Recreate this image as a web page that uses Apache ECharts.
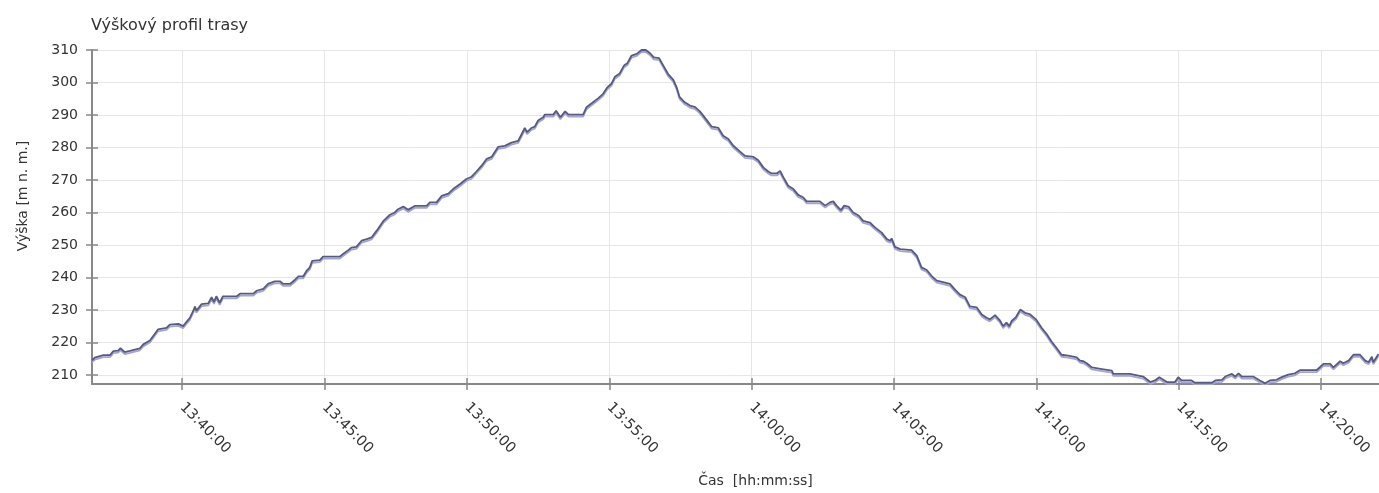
<!DOCTYPE html>
<html>
<head>
<meta charset="utf-8">
<script src="https://cdn.jsdelivr.net/npm/echarts@6/dist/echarts.min.js"></script>
<style>html,body{margin:0;padding:0;background:#fff}#c{width:1379px;height:493px}</style>
</head>
<body>
<div id="c"></div>
<script>
var chartTitle = 'Výškový profil trasy';
var yName = 'Výška [m n. m.]';
var xName = 'Čas  [hh:mm:ss]';
var yTicks = [210, 220, 230, 240, 250, 260, 270, 280, 290, 300, 310];
var xTicks = ['13:40:00', '13:45:00', '13:50:00', '13:55:00', '14:00:00', '14:05:00', '14:10:00', '14:15:00', '14:20:00'];
var xStart = '13:36:50';
var xEnd = '14:22:02';
var times = [
'13:36:50','13:36:56','13:37:14','13:37:28','13:37:35','13:37:45','13:37:50','13:37:59','13:38:10','13:38:31',
'13:38:38','13:38:52','13:38:59','13:39:09','13:39:27','13:39:34','13:39:52','13:39:55','13:40:02','13:40:09',
'13:40:16','13:40:23','13:40:27','13:40:30','13:40:41','13:40:55','13:41:02','13:41:07','13:41:12','13:41:19',
'13:41:26','13:41:55','13:42:02','13:42:30','13:42:37','13:42:51','13:43:01','13:43:15','13:43:26','13:43:33',
'13:43:47','13:43:58','13:44:05','13:44:15','13:44:22','13:44:29','13:44:34','13:44:50','13:44:57','13:45:32',
'13:45:39','13:45:50','13:45:57','13:46:07','13:46:18','13:46:29','13:46:39','13:46:50','13:47:04','13:47:18',
'13:47:28','13:47:35','13:47:46','13:47:56','13:48:10','13:48:35','13:48:42','13:48:56','13:49:07','13:49:21',
'13:49:31','13:49:45','13:49:59','13:50:10','13:50:20','13:50:31','13:50:41','13:50:52','13:51:06','13:51:20',
'13:51:34','13:51:48','13:51:52','13:52:02','13:52:07','13:52:16','13:52:23','13:52:30','13:52:41','13:52:44',
'13:53:02','13:53:08','13:53:17','13:53:27','13:53:34','13:54:05','13:54:12','13:54:23','13:54:37','13:54:47',
'13:54:56','13:55:05','13:55:12','13:55:22','13:55:31','13:55:38','13:55:47','13:55:58','13:56:08','13:56:17',
'13:56:26','13:56:34','13:56:45','13:56:54','13:57:04','13:57:15','13:57:22','13:57:28','13:57:39','13:57:50',
'13:58:01','13:58:11','13:58:25','13:58:36','13:58:50','13:59:00','13:59:11','13:59:21','13:59:35','13:59:46',
'14:00:04','14:00:14','14:00:25','14:00:35','14:00:42','14:00:53','14:01:00','14:01:07','14:01:17','14:01:28',
'14:01:38','14:01:49','14:01:56','14:02:24','14:02:35','14:02:45','14:02:52','14:02:59','14:03:08','14:03:15',
'14:03:25','14:03:34','14:03:46','14:03:55','14:04:09','14:04:20','14:04:34','14:04:45','14:04:52','14:04:55',
'14:05:02','14:05:13','14:05:16','14:05:37','14:05:48','14:05:58','14:06:09','14:06:19','14:06:30','14:06:58',
'14:07:09','14:07:19','14:07:30','14:07:40','14:07:54','14:08:05','14:08:15','14:08:22','14:08:33','14:08:43',
'14:08:50','14:08:57','14:09:03','14:09:08','14:09:17','14:09:26','14:09:36','14:09:47','14:09:59','14:10:11',
'14:10:22','14:10:32','14:10:43','14:10:53','14:11:07','14:11:25','14:11:32','14:11:39','14:11:46','14:11:57',
'14:12:18','14:12:39','14:12:42','14:13:17','14:13:21','14:13:45','14:14:00','14:14:10','14:14:19','14:14:35',
'14:14:52','14:14:59','14:15:06','14:15:27','14:15:34','14:16:10','14:16:17','14:16:31','14:16:38','14:16:52',
'14:16:59','14:17:06','14:17:13','14:17:37','14:17:51','14:18:02','14:18:12','14:18:26','14:18:37','14:18:51',
'14:19:05','14:19:16','14:19:51','14:20:05','14:20:19','14:20:26','14:20:40','14:20:47','14:20:58','14:21:08',
'14:21:22','14:21:33','14:21:40','14:21:47','14:21:50','14:22:01'
];
var elevation = [
214.5,215.3,216.1,216.1,217.3,217.5,218.2,217.0,217.4,218.2,
219.4,220.6,222.0,224.0,224.5,225.5,225.7,226.3,225.0,226.3,
227.5,229.6,231.0,229.8,231.8,232.0,233.9,232.5,234.2,232.2,
234.2,234.2,235.0,235.0,235.9,236.5,238.0,238.8,238.8,238.0,
238.0,239.3,240.3,240.3,242.0,243.1,245.1,245.3,246.4,246.4,
247.2,248.4,249.2,249.4,251.3,251.8,252.3,254.4,257.4,259.3,
260.0,261.0,261.8,260.8,262.0,262.0,263.1,263.1,265.1,265.8,
267.2,268.7,270.3,271.0,272.6,274.4,276.4,277.1,280.2,280.5,
281.5,282.0,282.6,286.0,284.7,286.0,286.4,288.3,289.3,290.1,
290.1,291.3,289.3,291.1,290.1,290.1,292.4,293.6,295.2,296.5,
298.5,299.7,301.8,302.8,305.2,305.9,308.3,308.8,310.0,310.0,
309.0,307.7,307.5,305.2,302.6,300.8,298.5,295.6,293.9,292.9,
292.4,291.1,288.5,286.4,286.0,283.6,282.6,280.6,278.8,277.4,
277.1,276.1,273.8,272.6,272.0,272.0,272.8,270.8,268.2,267.2,
265.4,264.6,263.4,263.4,262.1,263.1,263.4,262.1,260.7,262.1,
261.7,260.0,259.0,257.4,256.9,255.4,253.8,251.8,251.3,252.0,
249.4,248.7,249.2,248.4,246.7,243.1,242.3,240.5,239.0,238.0,
236.2,234.7,233.9,231.1,230.8,228.6,227.6,227.1,228.4,226.8,
225.0,226.1,225.0,226.6,227.8,230.1,229.1,228.6,227.1,224.5,
222.5,220.3,218.2,216.2,215.9,215.4,214.4,214.2,213.6,212.3,
211.8,211.3,210.3,210.3,209.8,209.5,207.8,208.3,209.3,207.8,
207.8,209.3,208.3,208.3,207.6,207.6,208.3,208.5,209.5,210.3,
209.5,210.5,209.5,209.5,208.3,207.4,208.3,208.5,209.3,210.1,
210.5,211.5,211.5,213.4,213.4,212.3,214.2,213.6,214.4,216.2,
216.2,214.4,213.9,215.6,213.9,216.4
];

// seconds since midnight
function sec(s) {
  var p = s.split(':');
  return (+p[0]) * 3600 + (+p[1]) * 60 + (+p[2]);
}
function pad(n) { return (n < 10 ? '0' : '') + n; }
function fmt(v) {
  v = Math.round(v);
  var h = Math.floor(v / 3600), m = Math.floor((v % 3600) / 60), s = v % 60;
  return pad(h) + ':' + pad(m) + ':' + pad(s);
}
var seriesData = times.map(function (t, i) { return [sec(t), elevation[i]]; });
var xTickValues = xTicks.map(sec);

var font = 'DejaVu Sans';
var tickStyle = { color: '#888', width: 1.5 };
var chart = echarts.init(document.getElementById('c'), null, { renderer: 'canvas' });
chart.setOption({
  animation: false,
  backgroundColor: '#ffffff',
  title: {
    text: chartTitle, left: 86, top: 13,
    textStyle: { fontFamily: font, fontSize: 16, fontWeight: 'normal', color: '#333' }
  },
  grid: { left: 92, right: 0, top: 50, bottom: 109, outerBoundsMode: 'none', containLabel: false },
  xAxis: [{
    type: 'value',
    min: sec(xStart), max: sec(xEnd),
    name: xName, nameLocation: 'middle', nameGap: 90,
    nameTextStyle: { fontFamily: font, fontSize: 14, color: '#333', padding: [0, 0, 0, 40] },
    axisLine: { show: true, lineStyle: { color: '#888', width: 2 } },
    axisTick: { show: true, length: 6, customValues: xTickValues, lineStyle: tickStyle },
    axisLabel: {
      rotate: -45, margin: 21, fontFamily: font, fontSize: 14.5, color: '#333',
      customValues: xTickValues,
      formatter: function (v) { return fmt(v); }
    },
    splitLine: { show: true, customValues: xTickValues, lineStyle: { color: '#e6e6e6', width: 1 } }
  }, {
    type: 'value', position: 'bottom', offset: 0,
    min: sec(xStart), max: sec(xEnd),
    axisLine: { show: false },
    axisTick: { show: true, inside: true, length: 6, customValues: xTickValues, lineStyle: tickStyle },
    axisLabel: { show: false },
    splitLine: { show: false }
  }],
  yAxis: [{
    type: 'value',
    min: 207.2, max: 310,
    name: yName, nameLocation: 'middle', nameGap: 62,
    nameTextStyle: { fontFamily: font, fontSize: 14, color: '#333', padding: [0, 0, 0, 42] },
    axisLine: { show: true, lineStyle: { color: '#888', width: 2 } },
    axisTick: { show: true, length: 6, customValues: yTicks, lineStyle: tickStyle },
    axisLabel: { customValues: yTicks, margin: 14, fontFamily: font, fontSize: 14, color: '#333' },
    splitLine: { show: true, customValues: yTicks, lineStyle: { color: '#e6e6e6', width: 1 } }
  }, {
    type: 'value', position: 'left', offset: 0,
    min: 207.2, max: 310,
    axisLine: { show: false },
    axisTick: { show: true, inside: true, length: 6, customValues: yTicks, lineStyle: tickStyle },
    axisLabel: { show: false },
    splitLine: { show: false }
  }],
  series: [{
    type: 'line',
    xAxisIndex: 0, yAxisIndex: 0,
    data: seriesData,
    showSymbol: false,
    symbol: 'none',
    lineStyle: { color: '#575a7e', width: 1.8, shadowColor: '#a3a3d6', shadowBlur: 0, shadowOffsetY: 2 }
  }]
});
</script>
</body>
</html>
